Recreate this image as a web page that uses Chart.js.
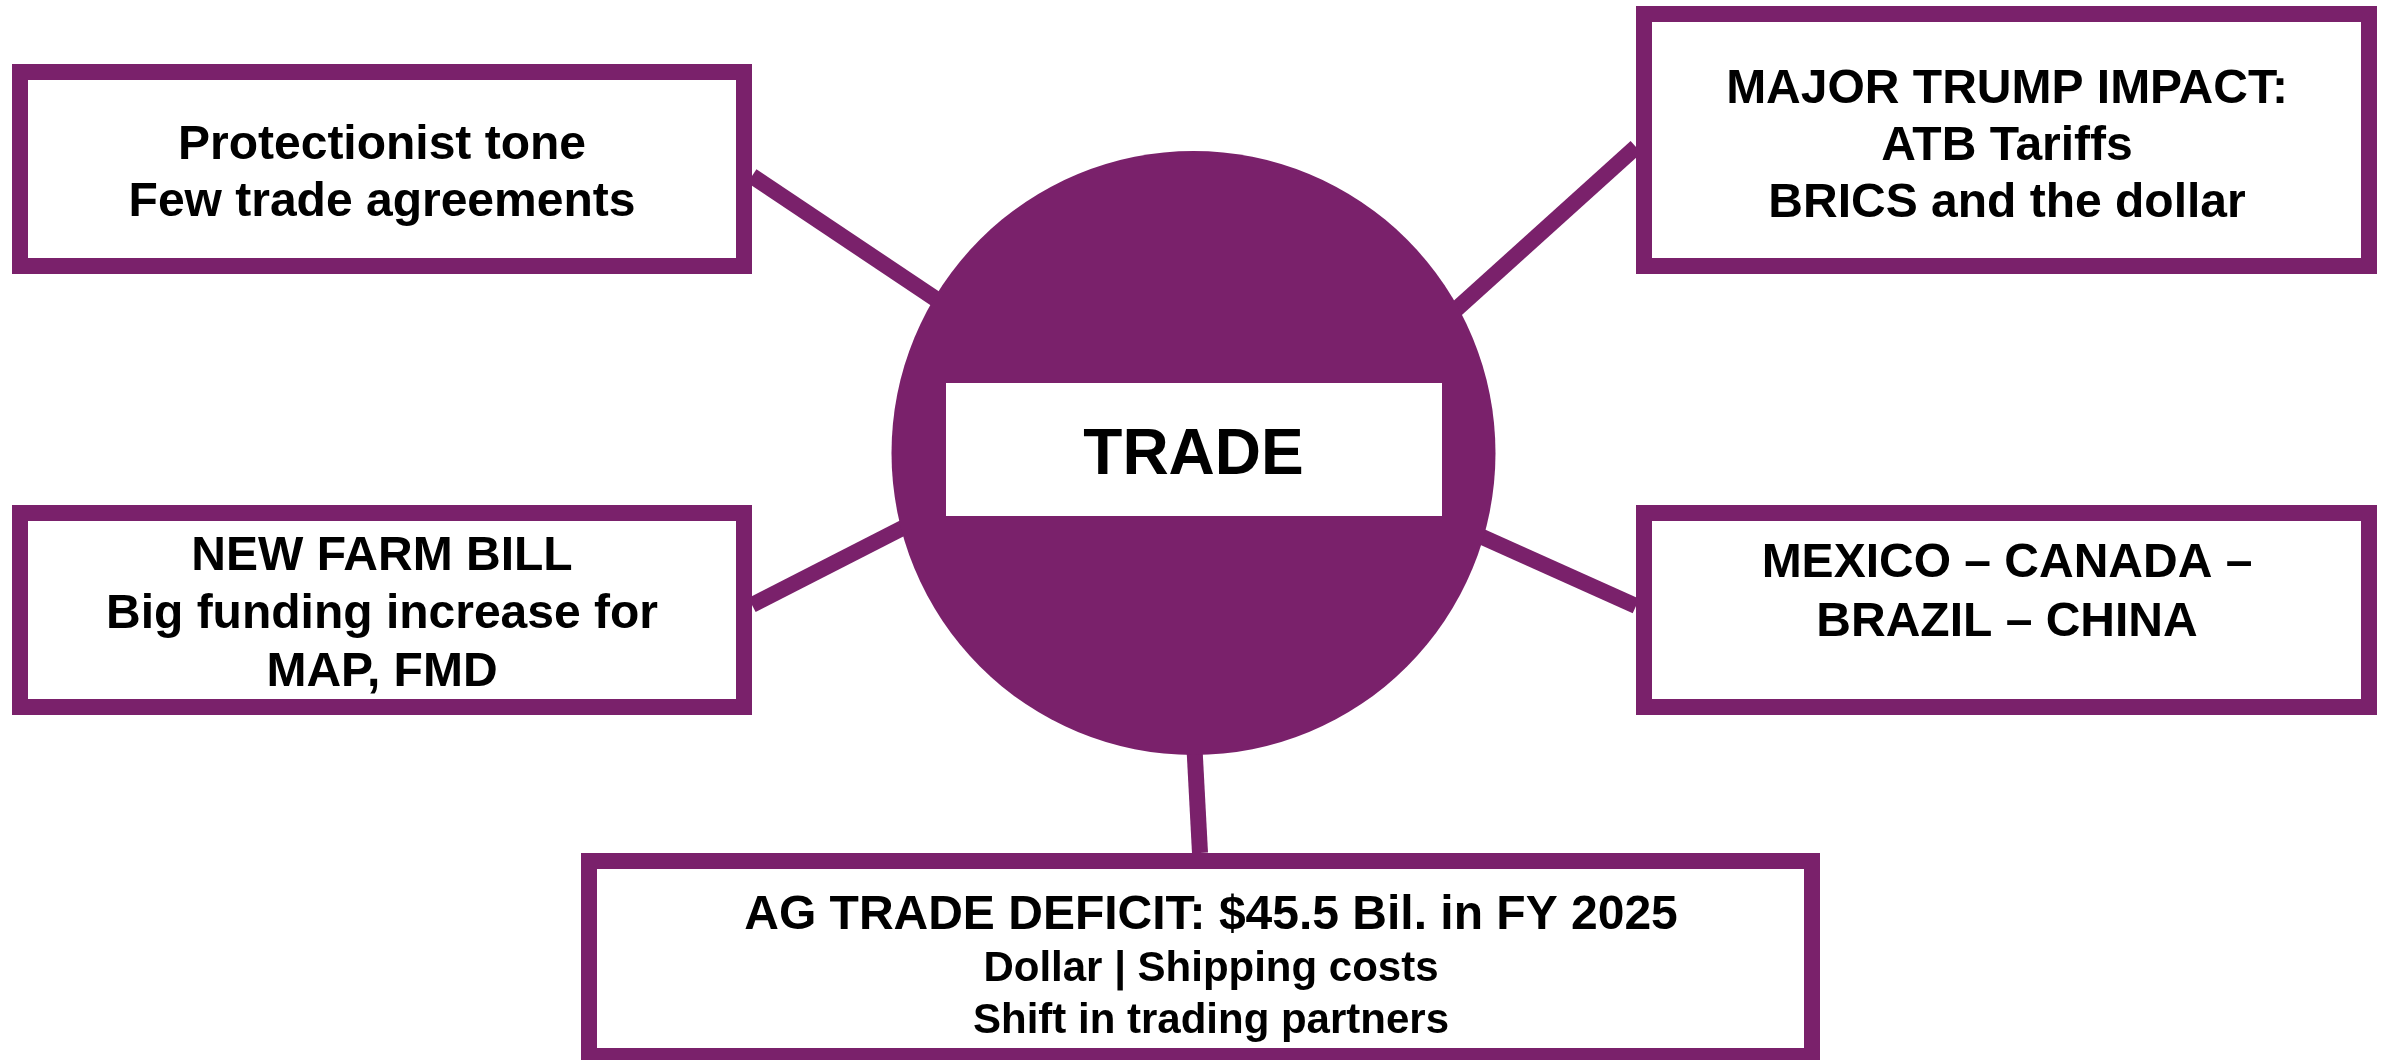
<!DOCTYPE html>
<html>
<head>
<meta charset="utf-8">
<script src="https://cdn.jsdelivr.net/npm/chart.js@4/dist/chart.umd.min.js"></script>
<style>
  html, body { margin: 0; padding: 0; background: #fff; }
  canvas { display: block; }
</style>
</head>
<body>
<canvas id="diagram" width="2387" height="1060"></canvas>
<script>
// content
const hubLabel = 'TRADE'
const boxLines = [
    ['Protectionist tone', 'Few trade agreements'],
    ['MAJOR TRUMP IMPACT:', 'ATB Tariffs', 'BRICS and the dollar'],
    ['NEW FARM BILL', 'Big funding increase for', 'MAP, FMD'],
    ['MEXICO \u2013 CANADA \u2013', 'BRAZIL \u2013 CHINA'],
    ['AG TRADE DEFICIT: $45.5 Bil. in FY 2025', 'Dollar | Shipping costs', 'Shift in trading partners']
]

// layout, in chart units (x 0..2387, y 0..1060 top down)
const hubCenter = [1193.5, 453]
const hubRadius = 302
const hubRect = [946, 383, 1442, 516]
const boxRects = [
    [12, 64, 752, 274],
    [1636, 6, 2377, 274],
    [12, 505, 752, 715],
    [1636, 505, 2377, 715],
    [581, 853, 1820, 1064]
]
const connectors = [
    [[752, 176], [1000, 342]],
    [[1636, 147], [1400, 360]],
    [[752, 605], [930, 514]],
    [[1636, 606], [1460, 527]],
    [[1200, 853], [1193, 720]]
]
const textX = [382, 2007, 382, 2007, 1211]
const firstBaseline = [159, 103, 570, 577, 929]
const lineGap = [57, 57, 58, 59, 52]

const purple = '#7a216b'
const fontFamily = '"Liberation Sans", Arial, Helvetica, sans-serif'

const ctx = document.querySelector('#diagram').getContext('2d')

const diagramPlugin = {
    id: 'diagram',
    afterDatasetsDraw(chart){
        const c = chart.ctx
        const px = v => chart.scales.x.getPixelForValue(v)
        const py = v => chart.scales.y.getPixelForValue(v)

        c.save()

        // white label band inside the hub
        c.fillStyle = '#fff'
        c.fillRect(px(hubRect[0]), py(hubRect[1]), px(hubRect[2]) - px(hubRect[0]), py(hubRect[3]) - py(hubRect[1]))

        c.fillStyle = '#000'
        c.textAlign = 'center'
        c.textBaseline = 'alphabetic'
        c.font = `bold 64px ${fontFamily}`
        c.fillText(hubLabel, px(hubCenter[0]), py(474))

        // boxes
        boxRects.forEach((r, i) => {
            const x0 = px(r[0]), y0 = py(r[1]), x1 = px(r[2]), y1 = py(r[3])
            c.fillStyle = '#fff'
            c.fillRect(x0, y0, x1 - x0, y1 - y0)
            c.strokeStyle = purple
            c.lineWidth = 16
            c.lineJoin = 'miter'
            c.strokeRect(x0 + 8, y0 + 8, x1 - x0 - 16, y1 - y0 - 16)

            c.fillStyle = '#000'
            boxLines[i].forEach((line, j) => {
                const size = (i === 4 && j > 0) ? 42 : 48
                c.font = `bold ${size}px ${fontFamily}`
                c.fillText(line, px(textX[i]), py(firstBaseline[i] + j * lineGap[i]))
            })
        })

        c.restore()
    }
}

new Chart(ctx, {
    type: 'scatter',
    data: {
        datasets: [
            {
                data: [{ x: hubCenter[0], y: hubCenter[1] }],
                pointRadius: hubRadius,
                pointHoverRadius: hubRadius,
                backgroundColor: purple,
                borderWidth: 0,
                clip: false
            },
            ...connectors.map(seg => ({
                data: seg.map(p => ({ x: p[0], y: p[1] })),
                showLine: true,
                borderColor: purple,
                borderWidth: 16,
                borderCapStyle: 'butt',
                pointRadius: 0,
                fill: false,
                clip: false
            }))
        ]
    },
    options: {
        responsive: false,
        animation: false,
        devicePixelRatio: 1,
        events: [],
        layout: { padding: 0, autoPadding: false },
        plugins: {
            legend: { display: false },
            tooltip: { enabled: false }
        },
        scales: {
            x: { type: 'linear', min: 0, max: 2387, display: false },
            y: { type: 'linear', min: 0, max: 1060, reverse: true, display: false }
        }
    },
    plugins: [diagramPlugin]
})
</script>
</body>
</html>
